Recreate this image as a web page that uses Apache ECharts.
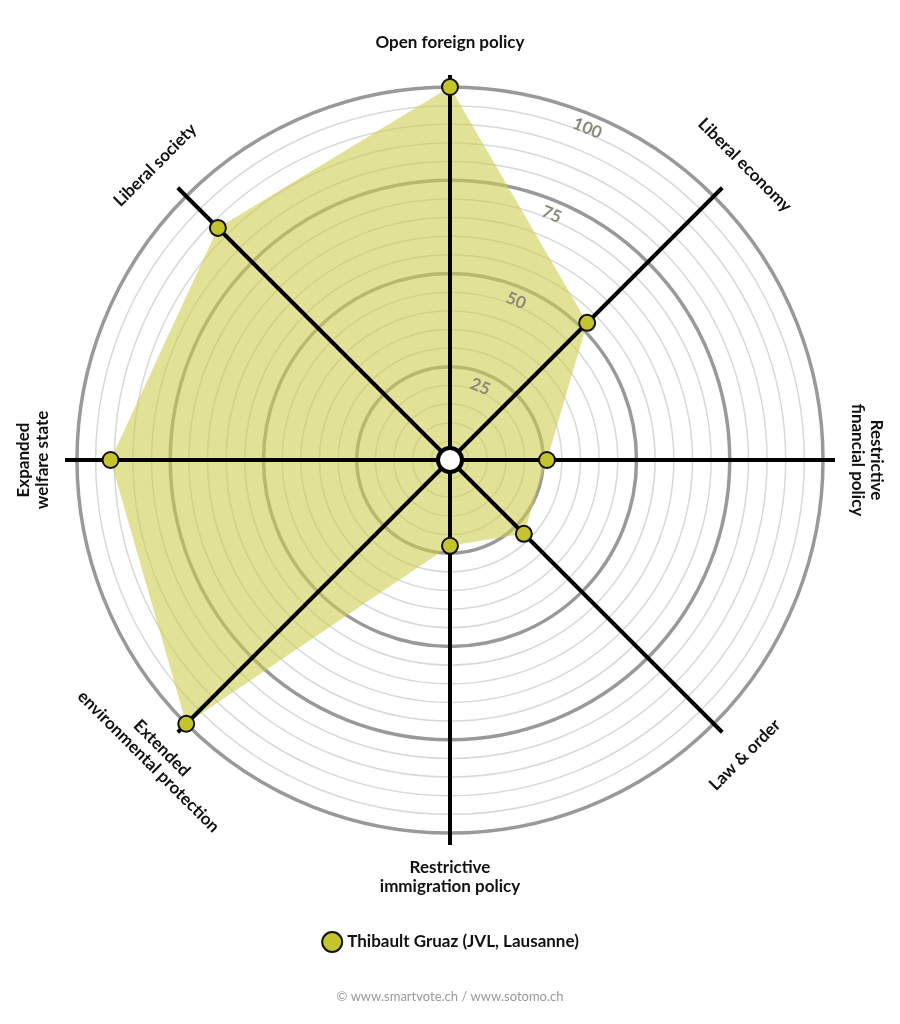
<!DOCTYPE html>
<html>
<head>
<meta charset="utf-8">
<script src="https://cdn.jsdelivr.net/npm/echarts@6/dist/echarts.min.js"></script>
<style>
  html, body { margin: 0; padding: 0; background: #fff; }
  #chart { width: 900px; height: 1024px; }
</style>
</head>
<body>
<div id="chart"></div>
<script>
// axes clockwise from the top
const categories = ['Open foreign policy', 'Liberal economy', 'Restrictive\nfinancial policy', 'Law & order',
  'Restrictive\nimmigration policy', 'Extended\nenvironmental protection', 'Expanded\nwelfare state', 'Liberal society'];
const values = [100, 52, 26, 28, 23, 100, 91, 88];
const tickLabels = [25, 50, 75, 100];
const seriesName = 'Thibault Gruaz (JVL, Lausanne)';

const cx = 450, cy = 460, R = 373;
const step = 360 / categories.length;
const pts = values.map((v, i) => [v, i * step]);

const myChart = echarts.init(document.getElementById('chart'));

// labels around the chart, rotated along the circle
let graphics = [];
categories.forEach((name, i) => {
  const a = i * step;
  const rad = a * Math.PI / 180;
  const r = 417;
  let rot = a;
  if (a > 90 && a < 270) rot = a - 180;
  if (a >= 270) rot = a - 360;
  graphics.push({
    type: 'text', x: cx + r * Math.sin(rad), y: cy - r * Math.cos(rad),
    rotation: -rot * Math.PI / 180,
    style: { text: name, fill: '#111', font: 'bold 17px Lato, "Noto Sans", sans-serif',
      align: 'center', verticalAlign: 'middle', lineHeight: 19 }
  });
});
tickLabels.forEach(t => {
  const r = t / 100 * R - 14, rad = 22.5 * Math.PI / 180;
  graphics.push({
    type: 'text', x: cx + r * Math.sin(rad), y: cy - r * Math.cos(rad),
    rotation: -22.5 * Math.PI / 180, z: 5,
    style: { text: String(t), fill: '#8a8a7a', font: 'bold 17px Lato, "Noto Sans", sans-serif',
      align: 'center', verticalAlign: 'middle' }
  });
});
graphics.push({
  type: 'text', left: 'center', top: 990,
  style: { text: '© www.smartvote.ch / www.sotomo.ch', fill: '#999', font: '13px Lato, "Noto Sans", sans-serif' }
});

const polarBase = { center: [cx, cy], radius: R };
const angleHidden = { type: 'value', min: 0, max: 360, interval: 45, startAngle: 90, clockwise: true,
  axisLine: { show: false }, axisTick: { show: false }, axisLabel: { show: false }, splitLine: { show: false } };

myChart.setOption({
  animation: false,
  polar: [polarBase, polarBase, { center: [cx, cy], radius: R + 12 }],
  angleAxis: [
    Object.assign({ polarIndex: 0 }, angleHidden),
    Object.assign({ polarIndex: 1 }, angleHidden),
    Object.assign({}, angleHidden, { polarIndex: 2, z: 5, splitLine: { show: true, lineStyle: { color: '#000', width: 4 } } })
  ],
  radiusAxis: [
    { polarIndex: 0, min: 0, max: 100, interval: 5, axisLine: { show: false }, axisTick: { show: false },
      axisLabel: { show: false }, splitLine: { lineStyle: { color: '#d8d8d8', width: 1.5 } } },
    { polarIndex: 1, min: 0, max: 100, interval: 25, axisLine: { show: false }, axisTick: { show: false },
      axisLabel: { show: false }, splitLine: { lineStyle: { color: '#999', width: 3.5 } } },
    { polarIndex: 2, min: 0, max: 100, axisLine: { show: false }, axisTick: { show: false },
      axisLabel: { show: false }, splitLine: { show: false } }
  ],
  legend: {
    bottom: 66, left: 'center', itemWidth: 20, itemHeight: 20, icon: 'circle',
    textStyle: { fontSize: 17, fontWeight: 'bold', color: '#111', fontFamily: 'Lato, "Noto Sans", sans-serif' },
    data: [seriesName]
  },
  graphic: graphics,
  series: [
    {
      type: 'custom', coordinateSystem: 'polar', polarIndex: 0, data: [0], z: 1,
      renderItem: (params, api) => ({
        type: 'polygon',
        shape: { points: pts.map(p => api.coord(p)) },
        style: { fill: 'rgba(205,206,80,0.6)' }
      })
    },
    {
      name: seriesName, type: 'scatter', coordinateSystem: 'polar', polarIndex: 0, z: 10,
      data: pts, symbolSize: 16,
      itemStyle: { color: '#c4c42c', borderColor: '#111', borderWidth: 2, opacity: 1 }
    },
    {
      type: 'scatter', coordinateSystem: 'polar', polarIndex: 0, z: 11, silent: true,
      data: [[0, 0]], symbolSize: 24,
      itemStyle: { color: '#fff', borderColor: '#000', borderWidth: 4, opacity: 1 }
    }
  ]
});
</script>
</body>
</html>
